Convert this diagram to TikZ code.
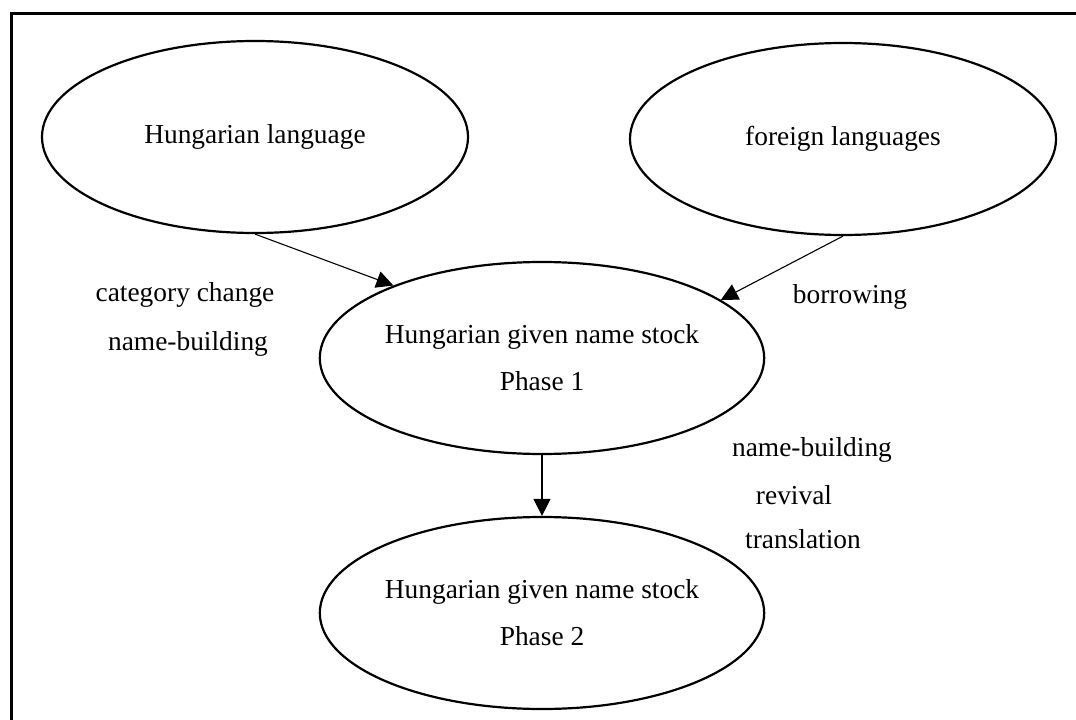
\documentclass[tikz,border=0pt]{standalone}
\usepackage{fontspec}
\setmainfont{Liberation Serif}
\usetikzlibrary{arrows.meta,shapes.geometric}
\tikzset{
  ar/.style={-{Triangle[length=17bp,width=17bp]},line width=1.1bp},
  stock/.style={draw,ellipse,line width=2.2bp,minimum width=426bp,minimum height=192bp,inner sep=0pt,align=center,font=\fontsize{27.5}{47}\selectfont},
  lbl/.style={font=\fontsize{27.5}{33}\selectfont,inner sep=0pt}
}
\begin{document}
\begin{tikzpicture}[x=1bp,y=-1bp]
\useasboundingbox (0,0) rectangle (1076,720);
\draw[line width=3bp] (11,720) -- (11,14) -- (1076,14);
\node[stock] (hun) at (255,137) {Hungarian language};
\node[stock] (for) at (843,139) {foreign languages};
\node[stock] (ph1) at (542,358) {Hungarian given name stock\\Phase 1};
\node[stock] (ph2) at (542,613) {Hungarian given name stock\\Phase 2};
\draw[ar] (hun.south) -- (ph1.154);
\draw[ar] (for.south) -- (ph1.18);
\draw[ar] (ph1.south) -- (ph2.north);
\node[lbl] (catchg) at (185,295) {category change};
\node[lbl] (bldl) at (188,344) {name-building};
\node[lbl] (borrow) at (850,297) {borrowing};
\node[lbl] (bldr) at (812,450) {name-building};
\node[lbl] (reviv) at (794,495) {revival};
\node[lbl] (transl) at (803,539) {translation};
\end{tikzpicture}
\end{document}
